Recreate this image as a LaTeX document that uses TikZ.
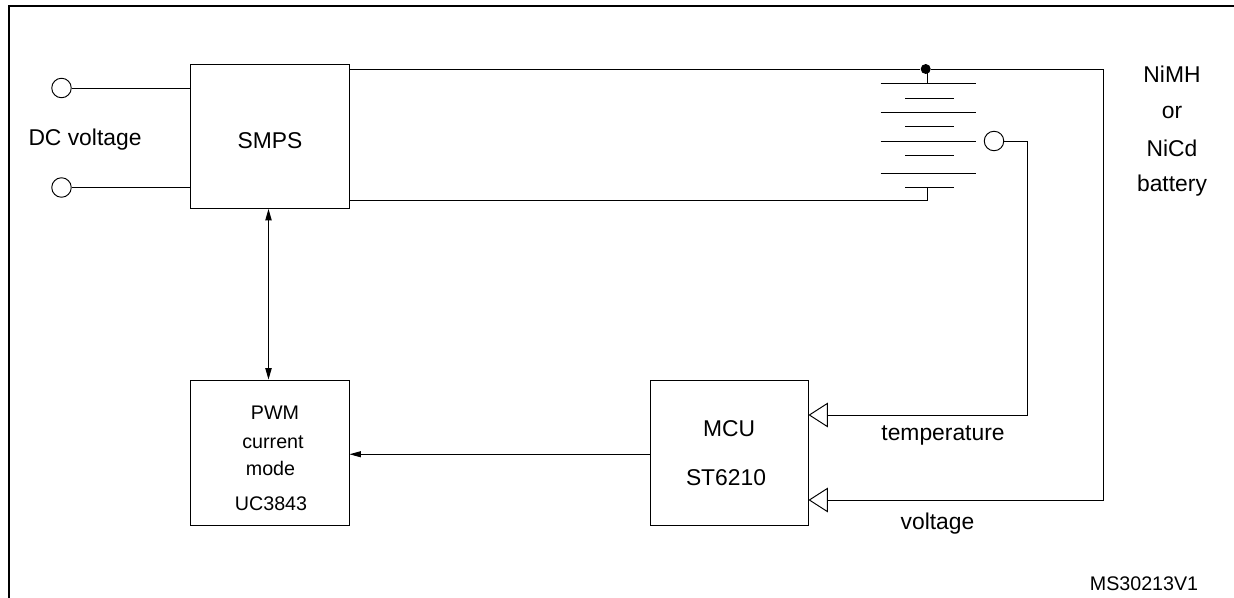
\documentclass[tikz,border=0pt]{standalone}
\usepackage{fontspec}
\setmainfont{Liberation Sans}
\usepackage{tikz}
\usetikzlibrary{arrows.meta}
\newcommand{\largetext}{\fontsize{13}{15}\selectfont}
\newcommand{\smalltext}{\fontsize{11.2}{13}\selectfont}
\tikzset{
  wire/.style={line width=0.55pt},
  blockbox/.style={draw,line width=0.55pt,minimum width=3.17cm,inner sep=0pt},
  terminal/.style={draw,circle,line width=0.55pt,minimum size=0.39cm,inner sep=0pt},
  junction/.style={fill,circle,minimum size=0.2cm,inner sep=0pt},
  biglabel/.style={anchor=base,inner sep=0pt,font=\largetext},
  smalllabel/.style={anchor=base,inner sep=0pt,font=\smalltext},
  doubletip/.style={{Triangle[length=6.5pt,width=3.6pt]}-{Triangle[length=6.5pt,width=3.6pt]}},
  filledtip/.style={-{Triangle[length=6.5pt,width=3.4pt]}},
  sensetip/.style={-{Triangle[open,length=11pt,width=14pt,fill=white]}}
}
\begin{document}
\begin{tikzpicture}[x=0.02cm,y=-0.02cm]
  \useasboundingbox (0,0) rectangle (1234,598);
  \draw[line width=1.35pt] (8.7,598) -- (8.7,5.7) -- (1234,5.7);

  \node[blockbox,minimum height=2.89cm] (smps) at (269.75,136.25) {};
  \node[blockbox,minimum height=2.9cm] (pwm) at (269.75,452.5) {};
  \node[blockbox,minimum width=3.16cm,minimum height=2.9cm] (mcu) at (729,452.5) {};

  \node[terminal] (inplus) at (61.5,88) {};
  \node[terminal] (inminus) at (61.5,187.5) {};
  \node[terminal] (tempterm) at (994,141) {};
  \node[junction] (batplus) at (925.7,69) {};

  \coordinate (smpsout) at (349,69);
  \coordinate (smpsret) at (349,200.5);
  \coordinate (celltop) at (927.5,83);
  \coordinate (cellbot) at (927.5,187.5);
  \coordinate (tempcorner) at (1027,415);
  \coordinate (voltcorner) at (1103,500);

  \foreach \y in {83,112.5,141.5,173} {
    \draw[wire] (880.5,\y) -- (976,\y);
  }
  \foreach \y in {98.5,126.5,155.5,187.5} {
    \draw[wire] (905,\y) -- (954,\y);
  }

  \draw[wire] (inplus) -- (inplus -| smps.west);
  \draw[wire] (inminus) -- (inminus -| smps.west);
  \draw[wire] (smpsout) -- (batplus);
  \draw[wire] (batplus -| celltop) -- (celltop);
  \draw[wire] (smpsret) -| (cellbot);
  \draw[wire,sensetip] (batplus) -| (voltcorner) -- (voltcorner -| mcu.east);
  \draw[wire,sensetip] (tempterm) -| (tempcorner) -- (tempcorner -| mcu.east);
  \draw[wire,doubletip] ([xshift=-0.025cm]smps.south) -- ([xshift=-0.025cm]pwm.north);
  \draw[wire,filledtip] ([yshift=-0.035cm]mcu.west) -- ([yshift=-0.035cm]pwm.east);

  \node[biglabel] (dclabel) at (85,145.7) {DC voltage};
  \node[biglabel] (smpslabel) at (270,148.5) {SMPS};
  \node[smalllabel] (pwmlabel) at (275,419) {PWM};
  \node[smalllabel] (currentlabel) at (273,448) {current};
  \node[smalllabel] (modelabel) at (270.5,475) {mode};
  \node[smalllabel] (uclabel) at (271,510) {UC3843};
  \node[biglabel] (mculabel) at (729,436) {MCU};
  \node[biglabel] (stlabel) at (726,485) {ST6210};
  \node[biglabel] (templabel) at (943,440.5) {temperature};
  \node[biglabel] (voltlabel) at (937.5,529.5) {voltage};
  \node[smalllabel] (codelabel) at (1144,590.7) {MS30213V1};
  \node[biglabel] (nimhlabel) at (1172,82.7) {NiMH};
  \node[biglabel] (orlabel) at (1172,119) {or};
  \node[biglabel] (nicdlabel) at (1172,156) {NiCd};
  \node[biglabel] (batlabel) at (1172,191.7) {battery};
\end{tikzpicture}
\end{document}
